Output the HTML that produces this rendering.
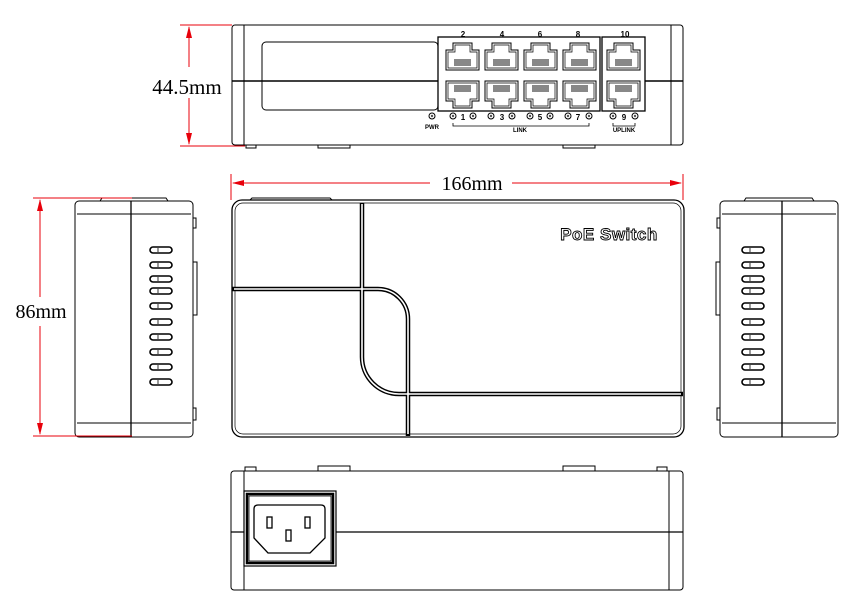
<!DOCTYPE html>
<html><head><meta charset="utf-8"><style>
html,body{margin:0;padding:0;background:#fff;}
svg{display:block;}
</style></head><body>
<svg width="863" height="613" viewBox="0 0 863 613" xmlns="http://www.w3.org/2000/svg">
<defs>
 <g id="portT" fill="none" stroke="#000" stroke-width="1">
  <path d="M2 8 H9 V1 H28 V8 H35 V28 H2 Z"/>
  <path d="M4 10 H11 V3 H26 V10 H33 V26 H4 Z" stroke-width="0.7"/>
  <rect x="10" y="17" width="17" height="7" fill="#888" stroke="none"/>
 </g>
 <g id="portB" fill="none" stroke="#000" stroke-width="1">
  <path d="M2 0 H35 V20 H28 V27 H9 V20 H2 Z"/>
  <path d="M4 2 H33 V18 H26 V25 H11 V18 H4 Z" stroke-width="0.7"/>
  <rect x="10" y="4" width="17" height="7" fill="#888" stroke="none"/>
 </g>
 <g id="slot"><rect x="0" y="0" width="22" height="6" rx="3" fill="#fff" stroke="#000" stroke-width="1.6"/><line x1="8" y1="1" x2="8" y2="5" stroke="#000" stroke-width="0.8"/></g>
 <g id="led"><circle r="3" fill="#fff" stroke="#000" stroke-width="1"/><circle r="1.2" fill="#555"/></g>
</defs>
<g fill="none" stroke="#000" stroke-width="1">
 <rect x="232" y="25" width="451" height="120" rx="3"/>
 <line x1="244" y1="25" x2="244" y2="145"/>
 <line x1="671" y1="25" x2="671" y2="145"/>
 <line x1="232" y1="81" x2="438" y2="81" stroke-width="1.4"/>
 <line x1="645" y1="81" x2="683" y2="81" stroke-width="1.4"/>
 <rect x="262" y="42" width="176" height="68" rx="4"/>
 <rect x="438" y="37" width="162" height="74" stroke-width="1.3"/>
 <rect x="602" y="37" width="43" height="74" stroke-width="1.3"/>
 <rect x="246" y="145" width="10" height="3"/>
 <rect x="318" y="145" width="32" height="3"/>
 <rect x="563" y="145" width="32" height="3"/>
 <rect x="232" y="200" width="452" height="237" rx="10" stroke-width="1.3"/>
 <rect x="235" y="203" width="446" height="231" rx="8" stroke-width="0.7"/>
 <path d="M250 200 L252 198 H330 L332 200" />
 <g stroke="#000" stroke-width="4.5">
  <path d="M362 203 V289 H232"/>
  <path d="M362 289 H378 A30 30 0 0 1 408 319 V394 H683"/>
  <path d="M362 289 V357 A37 37 0 0 0 399 394 H408 V436"/>
 </g>
 <g stroke="#fff" stroke-width="1.6">
  <path d="M362 204 V289 H234"/>
  <path d="M362 289 H378 A30 30 0 0 1 408 319 V394 H681"/>
  <path d="M362 289 V357 A37 37 0 0 0 399 394 H408 V434"/>
 </g>
 <rect x="75" y="201" width="118" height="236" rx="4"/>
 <line x1="77" y1="214" x2="191" y2="214"/>
 <line x1="77" y1="423" x2="191" y2="423"/>
 <line x1="131" y1="201" x2="131" y2="437" stroke-width="1.3"/>
 <path d="M100 201 L102 198 H166 L168 201"/>
 <path d="M193 218 H196 V228 H193"/>
 <path d="M193 262 H197 V315 H193"/>
 <path d="M193 408 H196 V420 H193"/>
 <rect x="720" y="201" width="118" height="236" rx="4"/>
 <line x1="722" y1="214" x2="836" y2="214"/>
 <line x1="722" y1="423" x2="836" y2="423"/>
 <line x1="782" y1="201" x2="782" y2="437" stroke-width="1.3"/>
 <path d="M744 201 L746 198 H812 L814 201"/>
 <path d="M720 218 H717 V228 H720"/>
 <path d="M720 262 H716 V315 H720"/>
 <path d="M720 408 H717 V420 H720"/>
 <rect x="231" y="471" width="452" height="119" rx="3"/>
 <line x1="244" y1="471" x2="244" y2="590"/>
 <line x1="669" y1="471" x2="669" y2="590"/>
 <line x1="231" y1="532" x2="683" y2="532" stroke-width="1.3"/>
 <path d="M245 471 V467 H256 V471"/>
 <path d="M318 471 V466 H350 V471"/>
 <path d="M563 471 V466 H595 V471"/>
 <path d="M657 471 V467 H667 V471"/>
 <rect x="244" y="491" width="92" height="75" fill="#fff" stroke-width="1.2"/>
 <rect x="247" y="494" width="86" height="69" stroke-width="2.5"/>
 <rect x="249" y="496" width="82" height="65" stroke-width="0.8"/>
 <path d="M258 505 H321 Q325 505 325 509 V538 L310 553 H268 L254 538 V509 Q254 505 258 505 Z" stroke-width="1.3"/>
 <rect x="267" y="517" width="5" height="11" stroke-width="1.3"/>
 <rect x="305" y="517" width="5" height="11" stroke-width="1.3"/>
 <rect x="286" y="530" width="5" height="11" stroke-width="1.3"/>
</g>
<use href="#portT" x="444" y="42"/><use href="#portT" x="483" y="42"/><use href="#portT" x="522" y="42"/><use href="#portT" x="561" y="42"/><use href="#portT" x="605" y="42"/>
<use href="#portB" x="444" y="81"/><use href="#portB" x="483" y="81"/><use href="#portB" x="522" y="81"/><use href="#portB" x="561" y="81"/><use href="#portB" x="605" y="81"/>
<g font-family="Liberation Sans, sans-serif" font-size="8" font-weight="bold" text-anchor="middle" fill="#000">
 <text x="463" y="37">2</text><text x="502" y="37">4</text><text x="540" y="37">6</text><text x="578" y="37">8</text><text x="625" y="37">10</text>
 <text x="463" y="120">1</text><text x="502" y="120">3</text><text x="540" y="120">5</text><text x="578" y="120">7</text><text x="624" y="120">9</text>
 <text x="432" y="129" font-size="6">PWR</text><text x="520" y="132" font-size="6">LINK</text><text x="624" y="132" font-size="6">UPLINK</text>
</g>
<use href="#led" x="432" y="116"/>
<use href="#led" x="453" y="116"/><use href="#led" x="473" y="116"/><use href="#led" x="491" y="116"/><use href="#led" x="512" y="116"/>
<use href="#led" x="530" y="116"/><use href="#led" x="550" y="116"/><use href="#led" x="568" y="116"/><use href="#led" x="589" y="116"/>
<use href="#led" x="613" y="116"/><use href="#led" x="635" y="116"/>
<path d="M453 123 V126 H589 V123 M613 123 V126 H635 V123" fill="none" stroke="#000" stroke-width="0.8"/>
<g id="sl">
<use href="#slot" x="150" y="247"/><use href="#slot" x="150" y="262"/><use href="#slot" x="150" y="276"/><use href="#slot" x="150" y="288"/><use href="#slot" x="150" y="303"/><use href="#slot" x="150" y="319"/><use href="#slot" x="150" y="334"/><use href="#slot" x="150" y="349"/><use href="#slot" x="150" y="364"/><use href="#slot" x="150" y="379"/>
</g>
<use href="#sl" x="592" y="0"/>
<text x="609" y="240" font-family="Liberation Sans, sans-serif" font-size="17" font-weight="bold" text-anchor="middle" fill="#fff" stroke="#000" stroke-width="0.9" letter-spacing="0.5">PoE Switch</text>
<g stroke="#e8000b" stroke-width="1" fill="none">
 <line x1="180" y1="25" x2="232" y2="25"/><line x1="180" y1="146" x2="245" y2="146"/>
 <line x1="189" y1="27" x2="189" y2="67"/><line x1="189" y1="98" x2="189" y2="144"/>
 <line x1="231" y1="174" x2="231" y2="200"/><line x1="683" y1="174" x2="683" y2="200"/>
 <line x1="233" y1="183" x2="430" y2="183"/><line x1="512" y1="183" x2="681" y2="183"/>
 <line x1="33" y1="198" x2="132" y2="198"/><line x1="33" y1="436" x2="132" y2="436"/>
 <line x1="40" y1="200" x2="40" y2="297"/><line x1="40" y1="326" x2="40" y2="434"/>
</g>
<g fill="#e8000b">
 <path d="M189 26 L186 38 L192 38 Z"/><path d="M189 145 L186 133 L192 133 Z"/>
 <path d="M232 183 L244 180 L244 186 Z"/><path d="M682 183 L670 180 L670 186 Z"/>
 <path d="M40 199 L37 211 L43 211 Z"/><path d="M40 435 L37 423 L43 423 Z"/>
</g>
<g font-family="Liberation Serif, serif" font-size="20" fill="#000" text-anchor="middle">
 <text x="187" y="94" font-size="21">44.5mm</text>
 <text x="472" y="190">166mm</text>
 <text x="41" y="318">86mm</text>
</g>
</svg>
</body></html>
